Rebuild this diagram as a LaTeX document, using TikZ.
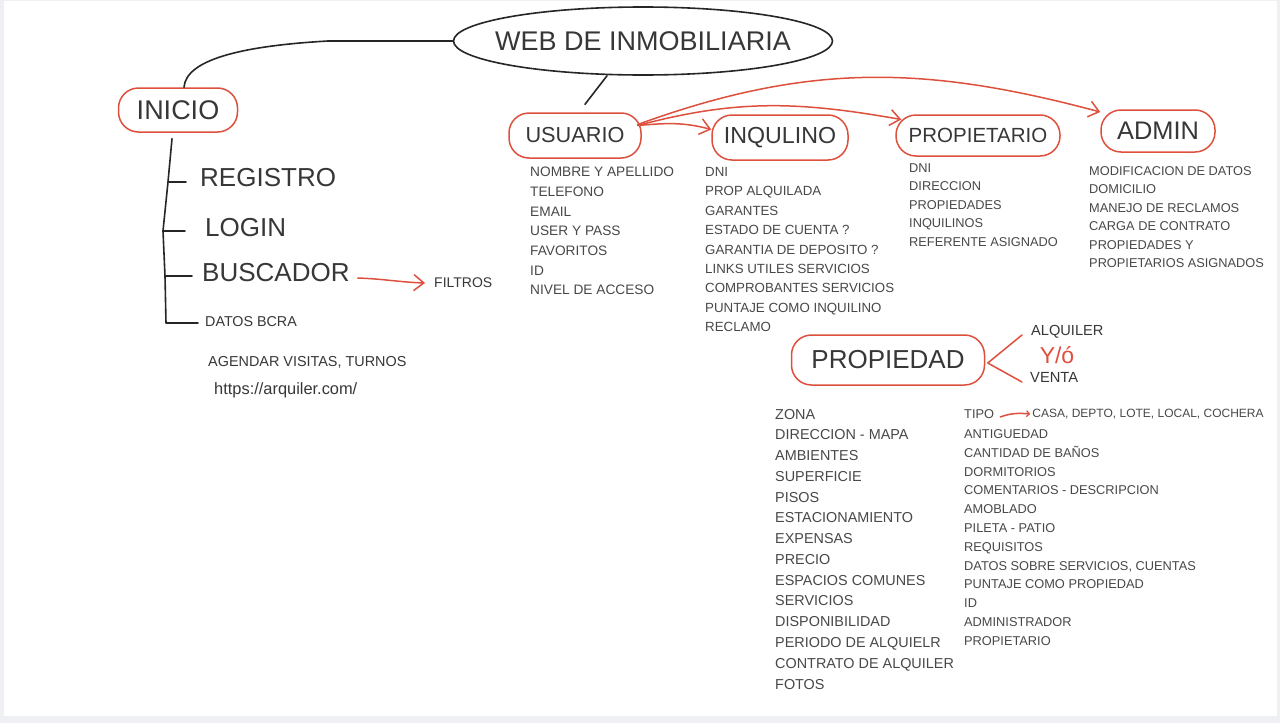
\documentclass[tikz,border=0pt]{standalone}
\usepackage{fontspec}
\setmainfont{Liberation Sans}
\usepackage{xcolor}
\usepackage{tikz}
\usetikzlibrary{
arrows.meta,
positioning,
shapes.geometric
}
\definecolor{penred}{RGB}{222,80,62}
\definecolor{inkgray}{RGB}{55,55,55}
\definecolor{itemgray}{RGB}{72,72,72}
\definecolor{paper}{RGB}{238,240,243}

\begin{document}
\begin{tikzpicture}[
  x=1pt, y=-1pt,
  pen/.style={draw=black!85, line width=1.6pt, line cap=round, line join=round},
  redpen/.style={draw=penred, line width=1.5pt, line cap=round, line join=round},
  redarrow/.style={redpen, -{Straight Barb[length=10pt, width=16pt, line width=1.5pt]}},
  bubble/.style={redpen, rounded corners=20pt, text=inkgray, inner sep=0pt},
  leaf/.style={text=inkgray, inner sep=1pt, anchor=west},
  items/.style={text=itemgray, inner sep=0pt, anchor=north west, align=left}
]
\useasboundingbox (0,0) rectangle (1280,723);
\fill[paper] (0,0) rectangle (1280,723);
\fill[white] (4,1) rectangle (1277,716);

% Root
\node[pen, ellipse, minimum width=379, minimum height=68, inner sep=0pt, text=inkgray, font=\fontsize{27}{32}\selectfont] (web) at (643,41) {\makebox[0pt]{WEB DE INMOBILIARIA}};

% Inicio
\node[bubble, minimum width=119, minimum height=44, font=\fontsize{27}{32}\selectfont] (inicio) at (178,110) {INICIO};
\node[leaf, font=\fontsize{26}{31}\selectfont] (registro) at (199,178) {REGISTRO};
\node[leaf, font=\fontsize{26}{31}\selectfont] (login) at (204,228) {LOGIN};
\node[leaf, font=\fontsize{26}{31}\selectfont] (buscador) at (201,273) {BUSCADOR};
\node[leaf, font=\fontsize{14.3}{17}\selectfont] (datos) at (204,322) {DATOS BCRA};
\node[leaf, font=\fontsize{14}{17}\selectfont] (filtros) at (433,283) {FILTROS};
\node[leaf, font=\fontsize{14.4}{17}\selectfont] (agendar) at (207,362) {AGENDAR VISITAS, TURNOS};
\node[leaf, font=\fontsize{16.4}{19}\selectfont] (url) at (213,390) {https://arquiler.com/};

% Usuarios
\node[bubble, minimum width=132, minimum height=45, font=\fontsize{21.7}{26}\selectfont] (usuario) at (575,135.5) {USUARIO};
\node[bubble, minimum width=136, minimum height=45, font=\fontsize{23.2}{28}\selectfont] (inquilino) at (780,137.5) {INQULINO};
\node[bubble, minimum width=164, minimum height=41, font=\fontsize{20.5}{25}\selectfont] (propietario) at (978,135.5) {PROPIETARIO};
\node[bubble, minimum width=114, minimum height=42, font=\fontsize{25.4}{30}\selectfont] (admin) at (1158,131) {ADMIN};

\node[items, font=\fontsize{13.7}{19.7}\selectfont] (usuariolist) at (530,167) {NOMBRE Y APELLIDO\\TELEFONO\\EMAIL\\USER Y PASS\\FAVORITOS\\ID\\NIVEL DE ACCESO};
\node[items, font=\fontsize{13.3}{19.4}\selectfont] (inquilinolist) at (705,167.2) {DNI\\PROP ALQUILADA\\GARANTES\\ESTADO DE CUENTA ?\\GARANTIA DE DEPOSITO ?\\LINKS UTILES SERVICIOS\\COMPROBANTES SERVICIOS\\PUNTAJE COMO INQUILINO\\RECLAMO};
\node[items, font=\fontsize{12.8}{18.5}\selectfont] (propietariolist) at (909,163.4) {DNI\\DIRECCION\\PROPIEDADES\\INQUILINOS\\REFERENTE ASIGNADO};
\node[items, font=\fontsize{12.8}{18.4}\selectfont] (adminlist) at (1089,166.4) {MODIFICACION DE DATOS\\DOMICILIO\\MANEJO DE RECLAMOS\\CARGA DE CONTRATO\\PROPIEDADES Y\\PROPIETARIOS ASIGNADOS};

% Propiedad
\node[bubble, minimum width=193, minimum height=50, font=\fontsize{26}{31}\selectfont] (propiedad) at (888,360) {PROPIEDAD};
\node[leaf, font=\fontsize{14.6}{17}\selectfont] (alquiler) at (1030,332) {ALQUILER};
\node[leaf, font=\fontsize{14.7}{17}\selectfont] (venta) at (1029,377) {VENTA};
\node[text=penred, font=\fontsize{23}{28}\selectfont] (yo) at (1057,355) {Y/ó};

\node[items, font=\fontsize{14.4}{20.77}\selectfont] (propiedadleft) at (775,408.8) {ZONA\\DIRECCION - MAPA\\AMBIENTES\\SUPERFICIE\\PISOS\\ESTACIONAMIENTO\\EXPENSAS\\PRECIO\\ESPACIOS COMUNES\\SERVICIOS\\DISPONIBILIDAD\\PERIODO DE ALQUIELR\\CONTRATO DE ALQUILER\\FOTOS};
\node[leaf, text=itemgray, font=\fontsize{12.8}{15}\selectfont] (tipo) at (963,414) {TIPO};
\node[leaf, text=itemgray, font=\fontsize{12}{14}\selectfont, right=36pt of tipo] (casa) {CASA, DEPTO, LOTE, LOCAL, COCHERA};
\node[items, font=\fontsize{12.8}{18.8}\selectfont] (propiedadright) at (964,429.4) {ANTIGUEDAD\\CANTIDAD DE BAÑOS\\DORMITORIOS\\COMENTARIOS - DESCRIPCION\\AMOBLADO\\PILETA - PATIO\\REQUISITOS\\DATOS SOBRE SERVICIOS, CUENTAS\\PUNTAJE COMO PROPIEDAD\\ID\\ADMINISTRADOR\\PROPIETARIO};

% Black connectors
\coordinate (bend) at (328,41);
\draw[pen] (web.west) -- (bend) .. controls (240,46) and (186,60) .. ([xshift=6pt]inicio.north);
\draw[pen] ([xshift=-36pt]web.south) -- ([xshift=10pt,yshift=8pt]usuario.north);

\coordinate (jreg) at (168,182);
\coordinate (jlog) at (163,231);
\coordinate (jbus) at (165,276);
\coordinate (jdat) at (166,323);
\draw[pen] ([xshift=-6pt,yshift=-6pt]inicio.south) -- (jreg) -- (jlog) -- (jbus) -- (jdat) -- ([xshift=-6pt,yshift=-1pt]datos.west);
\draw[pen] (jreg) -- ([xshift=-13pt,yshift=-4pt]registro.west);
\draw[pen] (jlog) -- ([xshift=-19pt,yshift=-3pt]login.west);
\draw[pen] (jbus) -- ([xshift=-9pt,yshift=-3pt]buscador.west);

% Red connectors
\draw[redarrow] ([xshift=7pt,yshift=-5pt]buscador.east) to[out=-2, in=178] ([xshift=-8pt]filtros.west);
\draw[redarrow] ([xshift=-4pt,yshift=10pt]usuario.east) to[out=5, in=165] ([yshift=8pt]inquilino.west);
\draw[redarrow] ([xshift=-4pt,yshift=10pt]usuario.east) to[out=15, in=170] ([xshift=6pt,yshift=16pt]propietario.west);
\draw[redarrow] ([xshift=-4pt,yshift=11pt]usuario.east) to[out=20, in=165] ([yshift=19pt]admin.west);
\draw[redpen] ([xshift=-8pt,yshift=-3pt]alquiler.west) -- ([xshift=2.5pt,yshift=-3pt]propiedad.east) -- ([xshift=-7pt,yshift=-5pt]venta.west);
\draw[redpen, -{Straight Barb[length=3pt, width=6pt, line width=1.2pt]}] ([xshift=5pt,yshift=-3pt]tipo.east) to[out=20, in=175] ([xshift=-1pt]casa.west);

\end{tikzpicture}
\end{document}
